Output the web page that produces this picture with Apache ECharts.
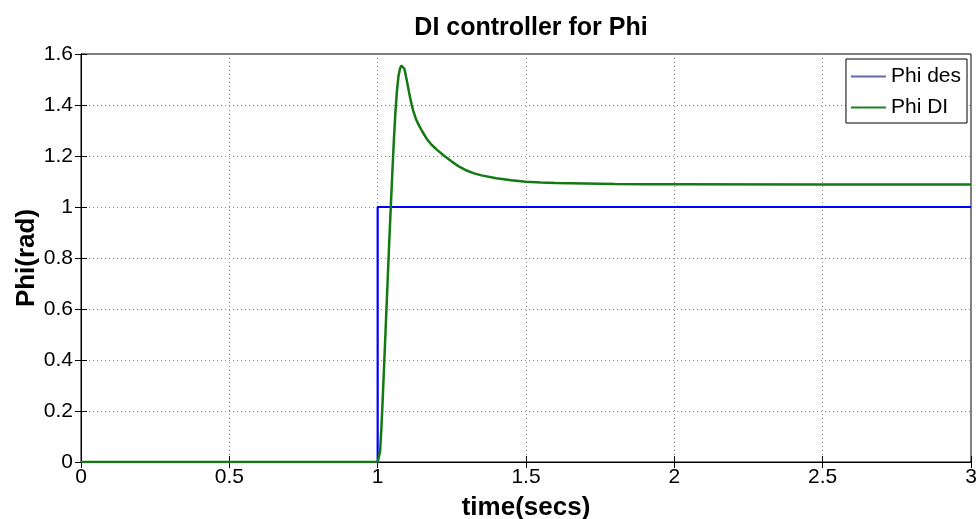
<!DOCTYPE html>
<html><head><meta charset="utf-8">
<script src="https://cdn.jsdelivr.net/npm/echarts@6/dist/echarts.min.js"></script>
<style>html,body{margin:0;padding:0;background:#fff}#c{width:979px;height:519px}</style>
</head><body><div id="c"></div>
<script>
const titleText = 'DI controller for Phi';
const xName = 'time(secs)';
const yName = 'Phi(rad)';
const desName = 'Phi des';
const diName = 'Phi DI';
const timeDes = [0, 1, 1, 3];
const phiDes  = [0, 0, 1, 1];
const timeDI = [0, 1.000, 1.004, 1.008, 1.012, 1.016, 1.020, 1.025, 1.030, 1.035, 1.040, 1.045, 1.050, 1.055, 1.060, 1.065, 1.070, 1.075, 1.080, 1.085, 1.090, 1.095, 1.100, 1.105, 1.110, 1.115, 1.120, 1.130, 1.140, 1.150, 1.165, 1.180, 1.200, 1.225, 1.250, 1.275, 1.300, 1.325, 1.350, 1.400, 1.450, 1.500, 1.550, 1.600, 1.700, 1.800, 1.900, 2.000, 2.500, 3.000];
const phiDI  = [0, 0, 0.0, 0.04, 0.12, 0.22, 0.33, 0.47, 0.61, 0.75, 0.89, 1.02, 1.15, 1.27, 1.375, 1.455, 1.512, 1.542, 1.555, 1.556, 1.542, 1.515, 1.485, 1.455, 1.425, 1.400, 1.377, 1.342, 1.318, 1.297, 1.268, 1.246, 1.224, 1.200, 1.178, 1.158, 1.143, 1.132, 1.124, 1.113, 1.105, 1.099, 1.096, 1.094, 1.092, 1.090, 1.089, 1.089, 1.088, 1.088];

const font = 'Liberation Sans, Arial, sans-serif';
const chart = echarts.init(document.getElementById('c'));
const pairs = (xs, ys) => xs.map((x, i) => [x, ys[i]]);
const tickLen = 6;
chart.setOption({
  animation: false,
  backgroundColor: '#fff',
  title: { text: titleText, left: 526, textAlign: 'center', top: 11,
    textStyle: { fontFamily: font, fontSize: 25, fontWeight: 'bold', color: '#000' } },
  grid: { left: 81, right: 8, top: 54, bottom: 57, show: true, borderColor: '#000', borderWidth: 1,
    backgroundColor: 'transparent', containLabel: false, outerBoundsMode: 'none' },
  legend: {
    right: 12, top: 59, orient: 'vertical', itemGap: 10,
    backgroundColor: '#fff', borderColor: '#000', borderWidth: 1, padding: [7, 6, 5, 5],
    itemWidth: 35, itemHeight: 2, icon: 'rect',
    textStyle: { fontFamily: font, fontSize: 21, color: '#000' },
    data: [
      { name: desName, itemStyle: { color: '#6868a8' } },
      { name: diName, itemStyle: { color: '#1e801e' } }
    ]
  },
  xAxis: [{
    type: 'value', min: 0, max: 3, interval: 0.5,
    name: xName, nameLocation: 'middle', nameGap: 33, nameMoveOverlap: false,
    nameTextStyle: { fontFamily: font, fontSize: 26, fontWeight: 'bold', color: '#000' },
    axisLine: { show: true, lineStyle: { color: '#000' } },
    axisTick: { show: true, inside: true, length: tickLen, lineStyle: { color: '#000' } },
    axisLabel: { fontFamily: font, fontSize: 21, color: '#000', margin: 5 },
    splitLine: { show: true, lineStyle: { type: [1, 3], color: '#888' } }
  }, {
    type: 'value', min: 0, max: 3, interval: 0.5, position: 'top',
    axisLine: { show: true, lineStyle: { color: '#000' } },
    axisTick: { show: true, inside: true, length: tickLen, lineStyle: { color: '#000' } },
    axisLabel: { show: false }, splitLine: { show: false }
  }],
  yAxis: [{
    type: 'value', min: 0, max: 1.6, interval: 0.2,
    name: yName, nameLocation: 'middle', nameGap: 41, nameMoveOverlap: false,
    nameTextStyle: { fontFamily: font, fontSize: 26, fontWeight: 'bold', color: '#000' },
    axisLine: { show: true, lineStyle: { color: '#000' } },
    axisTick: { show: true, inside: true, length: tickLen, lineStyle: { color: '#000' } },
    axisLabel: { fontFamily: font, fontSize: 21, color: '#000', margin: 8,
      formatter: v => String(Math.round(v * 10) / 10) },
    splitLine: { show: true, lineStyle: { type: [1, 3], color: '#888' } }
  }, {
    type: 'value', min: 0, max: 1.6, interval: 0.2, position: 'right',
    axisLine: { show: true, lineStyle: { color: '#000' } },
    axisTick: { show: true, inside: true, length: tickLen, lineStyle: { color: '#000' } },
    axisLabel: { show: false }, splitLine: { show: false }
  }],
  series: [
    { name: desName, type: 'line', data: pairs(timeDes, phiDes), showSymbol: false, symbol: 'none',
      lineStyle: { color: '#0000ff', width: 2.2 }, itemStyle: { color: '#6868a8' }, z: 3 },
    { name: diName, type: 'line', data: pairs(timeDI, phiDI), showSymbol: false, symbol: 'none', smooth: false,
      lineStyle: { color: '#137a13', width: 2.5 }, itemStyle: { color: '#1e801e' }, z: 4 }
  ]
});
</script></body></html>
